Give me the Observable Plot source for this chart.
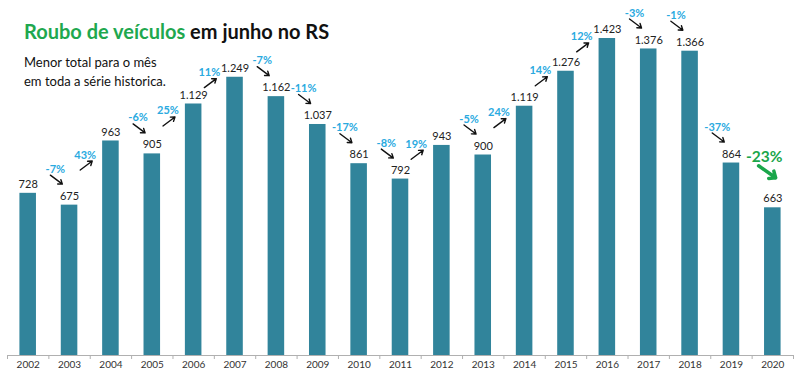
<!DOCTYPE html>
<html><head><meta charset="utf-8">
<script src="https://cdn.jsdelivr.net/npm/d3@7"></script>
<script src="https://cdn.jsdelivr.net/npm/@observablehq/plot@0.6"></script>
<style>
html,body{margin:0;padding:0;background:#fff}
#wrap{position:relative;width:800px;height:376px;font-family:Lato,"Open Sans",sans-serif}
#title{position:absolute;left:24px;top:19px;font-size:20px;font-weight:700;color:#111;line-height:1.2}
#title span{color:#1fa84f}
#sub{position:absolute;left:24px;top:53px;font-size:13px;line-height:18.5px;color:#111}
</style></head><body>
<div id="wrap"><div id="chart"></div>
<div id="title"><span>Roubo de veículos</span> em junho no RS</div>
<div id="sub">Menor total para o mês<br>em toda a série historica.</div>
</div>
<script>
const years = [2002,2003,2004,2005,2006,2007,2008,2009,2010,2011,2012,2013,2014,2015,2016,2017,2018,2019,2020];
const values = [728,675,963,905,1129,1249,1162,1037,861,792,943,900,1119,1276,1423,1376,1366,864,663];
const changeLabels = ["-7%","43%","-6%","25%","11%","-7%","-11%","-17%","-8%","19%","-5%","24%","14%","12%","-3%","-1%","-37%","-23%"];

const fmt = d3.formatLocale({decimal: ",", thousands: ".", grouping: [3], currency: ["R$", ""]}).format(",d");
const bars = years.map((y, i) => ({year: y, value: values[i]}));

const H = 376, MB = 21, MT = 38;
const k = 1423 / (H - MB - MT); // data units per pixel
const pxX = 1 / ((800 - 14) / 19); // years per pixel

const changes = changeLabels.map((t, j) => {
  const i = j + 1;
  const dec = values[i] < values[i - 1];
  const last = i === values.length - 1;
  const mid = (years[i - 1] + years[i]) / 2 + (last ? 15 : dec ? 7.5 : -4) * pxX;
  const base = dec ? values[i] : (values[i - 1] + values[i]) / 2;
  const arrowUp = last ? 36 : dec ? 25.5 : 7.5;
  const labelUp = last ? 51 : dec ? 36 : 18;
  const cy = base + arrowUp * k;
  const hx = (last ? 8.5 : 6) * pxX, hy = (last ? 6 : 4.5) * k;
  return {
    text: t, dec, last,
    x1: mid - hx, x2: mid + hx,
    y1: dec ? cy + hy : cy - hy,
    y2: dec ? cy - hy : cy + hy,
    lx: mid - (last ? 3 : 1) * pxX,
    ly: base + labelUp * k
  };
});
const boundaries = d3.range(2001.5, 2021, 1);
const normal = changes.filter(d => !d.last);
const special = changes.filter(d => d.last);

const chart = Plot.plot({
  width: 800,
  height: H,
  marginTop: MT,
  marginBottom: MB,
  marginLeft: 7,
  marginRight: 7,
  style: {fontFamily: "Lato, 'Open Sans', sans-serif", background: "#fff"},
  x: {type: "linear", domain: [2001.5, 2020.5], axis: null},
  y: {domain: [0, 1423], axis: null},
  marks: [
    Plot.rectY(bars, {x1: d => d.year - 0.2, x2: d => d.year + 0.2, y: "value", fill: "#31849b"}),
    Plot.ruleY([0], {stroke: "#b0b0b0", strokeWidth: 1}),
    Plot.axisX(boundaries, {tickSize: 4, tickFormat: () => "", stroke: "#b0b0b0"}),
    Plot.axisX(years, {tickSize: 0, tickPadding: 5, fontSize: 10, fill: "#333", tickFormat: d => String(d)}),
    Plot.text(bars, {x: "year", y: "value", text: d => fmt(d.value), dy: -9, fontSize: 11, fill: "#222"}),
    Plot.arrow(normal, {x1: "x1", y1: "y1", x2: "x2", y2: "y2", stroke: "#111", strokeWidth: 1.4, headLength: 5, headAngle: 70}),
    Plot.text(normal, {x: "lx", y: "ly", text: "text", fill: "#2aaadf", fontSize: 11, fontWeight: 700}),
    Plot.arrow(special, {x1: "x1", y1: "y1", x2: "x2", y2: "y2", stroke: "#1aa64a", strokeWidth: 3.5, headLength: 8, headAngle: 80}),
    Plot.text(special, {x: "lx", y: "ly", text: "text", fill: "#1aa64a", fontSize: 15.5, fontWeight: 700})
  ]
});
document.getElementById("chart").appendChild(chart);
</script>
</body></html>
